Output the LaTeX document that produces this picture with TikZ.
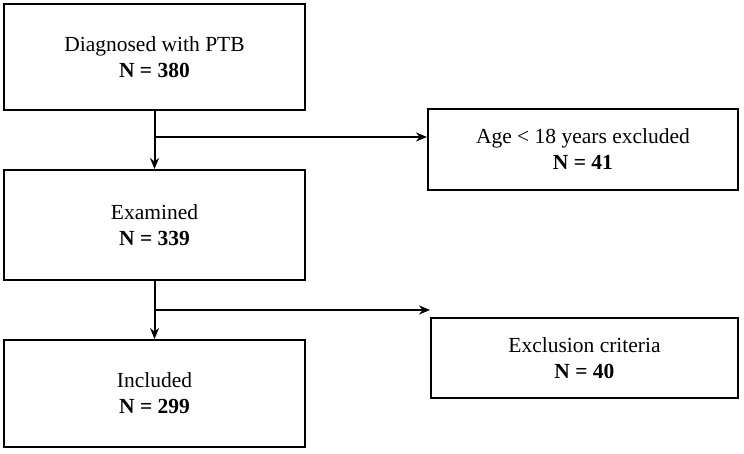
\documentclass[tikz,border=0pt]{standalone}
\usepackage{fontspec}
\setmainfont{Liberation Serif}
\usetikzlibrary{positioning,arrows.meta}
\tikzset{
	>={Stealth[length=11pt,width=9pt]},
	stage/.style={
		rectangle,
		draw=black, line width=2pt,
		align=center,
		font=\fontsize{21.5}{26}\selectfont},
	flow/.style={draw, line width=2pt, ->},
}
\begin{document}
\begin{tikzpicture}[x=1pt,y=1pt]
	\useasboundingbox (0,0) rectangle (744,453);

	\node[stage, minimum width=301pt, minimum height=106pt] (diag) at (154.5,396) {Diagnosed with PTB\\\textbf{N = 380}};
	\node[stage, minimum width=301pt, minimum height=110pt] (exam) at (154.5,228) {Examined\\\textbf{N = 339}};
	\node[stage, minimum width=301pt, minimum height=107pt] (incl) at (154.5,59.5) {Included\\\textbf{N = 299}};
	\node[stage, minimum width=310pt, minimum height=81pt] (age) at (583,303.5) {Age < 18 years excluded\\\textbf{N = 41}};
	\node[stage, minimum width=307pt, minimum height=80pt] (excl) at (584.5,95) {Exclusion criteria\\\textbf{N = 40}};

	% vertical flow with side branches
	\draw[flow] (diag.south) -- (exam.north);
	\draw[flow] (diag.south |- 0,316) coordinate (split1) -- (split1 -| age.west);
	\draw[flow] (exam.south) -- (incl.north);
	\draw[flow] (exam.south |- 0,143) coordinate (split2) -- (split2 -| excl.west);
\end{tikzpicture}
\end{document}
